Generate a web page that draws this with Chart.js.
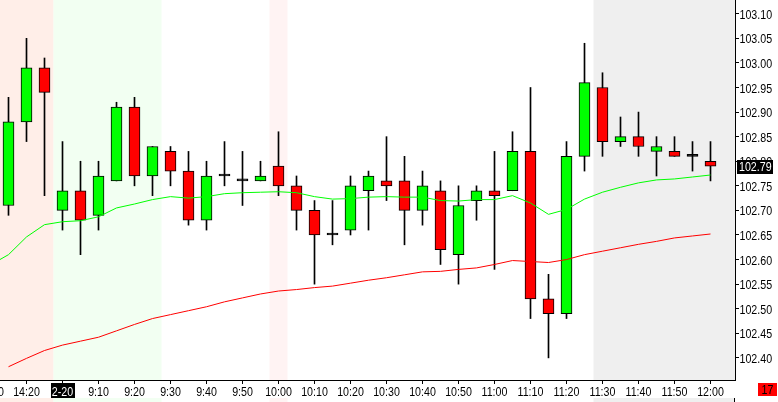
<!DOCTYPE html>
<html><head><meta charset="utf-8">
<script src="https://cdn.jsdelivr.net/npm/chart.js@4/dist/chart.umd.min.js"></script>
<style>html,body{margin:0;padding:0;background:#fff;overflow:hidden}canvas{display:block}</style>
</head><body>
<canvas id="c" width="778" height="402"></canvas>
<script>
// ---- data ----
const categories = ["14:10","14:15","14:20","14:25","2-20","9:05","9:10","9:15","9:20","9:25","9:30","9:35","9:40","9:45","9:50","9:55","10:00","10:05","10:10","10:15","10:20","10:25","10:30","10:35","10:40","10:45","10:50","10:55","11:00","11:05","11:10","11:15","11:20","11:25","11:30","11:35","11:40","11:45","11:50","11:55","12:00"];
const opens  = [null,102.71,102.88,102.99,102.70,102.74,102.69,102.76,102.91,102.77,102.82,102.78,102.68,102.77,102.76,102.76,102.79,102.75,102.70,102.65,102.66,102.74,102.76,102.76,102.70,102.74,102.61,102.72,102.74,102.74,102.82,102.52,102.49,102.81,102.95,102.84,102.85,102.82,102.82,102.81,102.80];
const highs  = [null,102.93,103.05,103.01,102.84,102.80,102.80,102.92,102.93,102.83,102.83,102.82,102.80,102.84,102.82,102.80,102.86,102.77,102.72,102.72,102.77,102.78,102.85,102.81,102.78,102.76,102.75,102.75,102.82,102.86,102.95,102.57,102.84,103.04,102.98,102.89,102.90,102.85,102.85,102.84,102.84];
const lows   = [null,102.69,102.84,102.73,102.66,102.61,102.66,102.76,102.75,102.73,102.75,102.67,102.66,102.75,102.71,102.76,102.73,102.66,102.55,102.63,102.65,102.66,102.72,102.63,102.67,102.59,102.55,102.68,102.58,102.74,102.48,102.40,102.48,102.78,102.81,102.83,102.81,102.77,102.81,102.78,102.76];
const closes = [null,102.88,102.99,102.94,102.74,102.68,102.77,102.91,102.77,102.83,102.78,102.68,102.77,102.77,102.76,102.77,102.75,102.70,102.65,102.65,102.75,102.77,102.75,102.70,102.75,102.62,102.71,102.74,102.73,102.82,102.52,102.49,102.81,102.96,102.84,102.85,102.83,102.83,102.81,102.81,102.79];
const maFast = [102.589,102.610,102.646,102.671,102.677,102.679,102.687,102.705,102.713,102.722,102.728,102.725,102.728,102.734,102.736,102.737,102.738,102.736,102.728,102.723,102.724,102.727,102.728,102.727,102.727,102.720,102.719,102.722,102.722,102.730,102.715,102.692,102.702,102.723,102.737,102.747,102.756,102.762,102.764,102.768,102.772];
const maSlow = [null,102.382,102.399,102.415,102.426,102.434,102.442,102.455,102.468,102.480,102.488,102.496,102.504,102.514,102.522,102.530,102.536,102.539,102.543,102.546,102.552,102.558,102.563,102.569,102.575,102.576,102.580,102.583,102.590,102.598,102.596,102.594,102.600,102.610,102.617,102.624,102.631,102.637,102.644,102.648,102.652];
const yTickStep = 0.05;
const xLabelEvery = 2;
const sessionBands = [
  {from: -1,   to: 3.5,  color: '#FFEEE8'},
  {from: 3.5,  to: 9.5,  color: '#F2FFF2'},
  {from: 15.5, to: 16.5, color: '#FFF3F3'},
  {from: 33.5, to: 45,   color: '#EFEFEF'}
];
const dayMarkerLabel = "2-20";
const counterText = "17";

// ---- build ----
const FONT = "13px 'Liberation Sans', Arial, sans-serif";
const SQUEEZE = 0.82;
const idx = categories.map((_, i) => i).filter(i => opens[i] !== null);
const bodies = idx.map(i => ({x: i, y: [opens[i], closes[i]]}));
const wicks  = idx.map(i => ({x: i, y: [lows[i], highs[i]]}));
const fastPts = categories.map((_, i) => ({x: i, y: maFast[i]})).filter(p => p.y !== null);
const slowPts = categories.map((_, i) => ({x: i, y: maSlow[i]})).filter(p => p.y !== null);
const bodyColor = ctx => {
  const r = ctx.raw; if (!r) return '#000';
  const o = r.y[0], c = r.y[1];
  return c > o ? '#00FF00' : (c < o ? '#FF0000' : '#000000');
};

function narrowText(ctx, text, x, y, align) {
  ctx.save();
  ctx.font = FONT;
  ctx.textBaseline = 'alphabetic';
  const w = ctx.measureText(text).width * SQUEEZE;
  let x0 = x;
  if (align === 'center') x0 = x - w / 2;
  else if (align === 'right') x0 = x - w;
  ctx.translate(x0, y);
  ctx.scale(SQUEEZE, 1);
  ctx.textAlign = 'left';
  ctx.fillText(text, 0, 0);
  ctx.restore();
  return w;
}

const bandsPlugin = {
  id: 'bands',
  beforeDatasetsDraw(chart) {
    const {ctx, chartArea: a, scales: {x}} = chart;
    ctx.save();
    sessionBands.forEach(b => {
      const x0 = Math.max(a.left, x.getPixelForValue(b.from));
      const x1 = Math.min(a.right, x.getPixelForValue(b.to));
      ctx.fillStyle = b.color;
      ctx.fillRect(x0, a.top, x1 - x0, a.bottom - a.top);
      ctx.fillRect(x0, 398, x1 - x0, chart.height - 398);
    });
    ctx.fillStyle = '#000';
    ctx.fillRect(Math.round(a.right) - 1, 398, 1, chart.height - 398);
    ctx.restore();
  },
  afterDraw(chart) {
    const {ctx, chartArea: a, scales: {x, y}} = chart;
    ctx.save();
    // y tick labels
    y.ticks.forEach(t => {
      const py = y.getPixelForValue(t.value);
      ctx.fillStyle = '#000';
      narrowText(ctx, t.value.toFixed(2), a.right + 4.5, Math.round(py) + 5, 'left');
    });
    // x tick labels
    categories.forEach((lab, i) => {
      if (i % xLabelEvery !== 0) return;
      const px = x.getPixelForValue(i);
      if (lab === dayMarkerLabel) {
        ctx.font = FONT;
        const w = ctx.measureText(lab).width * SQUEEZE;
        ctx.fillStyle = '#000';
        ctx.fillRect(Math.round(px - w / 2) - 1, a.bottom + 3, Math.round(w) + 3, 15);
        ctx.fillStyle = '#fff';
      } else {
        ctx.fillStyle = '#000';
      }
      narrowText(ctx, lab, px, a.bottom + 16, 'center');
    });
    // last price marker
    const last = closes[closes.length - 1];
    const py = Math.round(y.getPixelForValue(last));
    ctx.fillStyle = '#000';
    ctx.fillRect(a.right + 2, py - 6, 36, 14);
    ctx.fillStyle = '#fff';
    narrowText(ctx, last.toFixed(2), a.right + 4, py + 5, 'left');
    // counter box
    ctx.fillStyle = '#FF0000';
    ctx.fillRect(chart.width - 20, a.bottom + 3, 19, 13);
    ctx.fillStyle = '#000';
    narrowText(ctx, counterText, chart.width - 10.5, a.bottom + 14, 'center');
    ctx.restore();
  }
};

new Chart(document.getElementById('c'), {
  data: {
    datasets: [
      {type: 'line', data: fastPts, borderColor: '#00FF00', borderWidth: 1, pointRadius: 0, tension: 0, order: 1},
      {type: 'line', data: slowPts, borderColor: '#FF0000', borderWidth: 1, pointRadius: 0, tension: 0, order: 2},
      {type: 'bar', data: bodies, backgroundColor: bodyColor, borderColor: '#000', borderWidth: 1, borderSkipped: false,
        barThickness: 11, minBarLength: 2, grouped: false, order: 3},
      {type: 'bar', data: wicks, backgroundColor: '#000', borderWidth: 0, barThickness: 1, grouped: false, order: 4}
    ]
  },
  options: {
    responsive: false, animation: false, devicePixelRatio: 1,
    layout: {padding: 0},
    plugins: {legend: {display: false}, tooltip: {enabled: false}},
    scales: {
      x: {
        type: 'linear', position: 'bottom', offset: false,
        min: 1 - 8.5 / 18, max: 1 - 8.5 / 18 + 735 / 18,
        afterFit: s => { s.height = 22; },
        border: {display: true, color: '#000', width: 1},
        grid: {display: true, offset: false, drawOnChartArea: false, drawTicks: true, tickLength: 4, color: '#000'},
        ticks: {display: false, stepSize: xLabelEvery, includeBounds: false, autoSkip: false, maxRotation: 0}
      },
      y: {
        type: 'linear', position: 'right',
        min: 102.355, max: 103.128,
        afterFit: s => { s.width = 43; },
        border: {display: true, color: '#000', width: 1},
        grid: {display: true, drawOnChartArea: false, drawTicks: true, tickLength: 4, color: '#000'},
        ticks: {display: false, stepSize: yTickStep, includeBounds: false}
      }
    }
  },
  plugins: [bandsPlugin]
});
</script>
</body></html>
